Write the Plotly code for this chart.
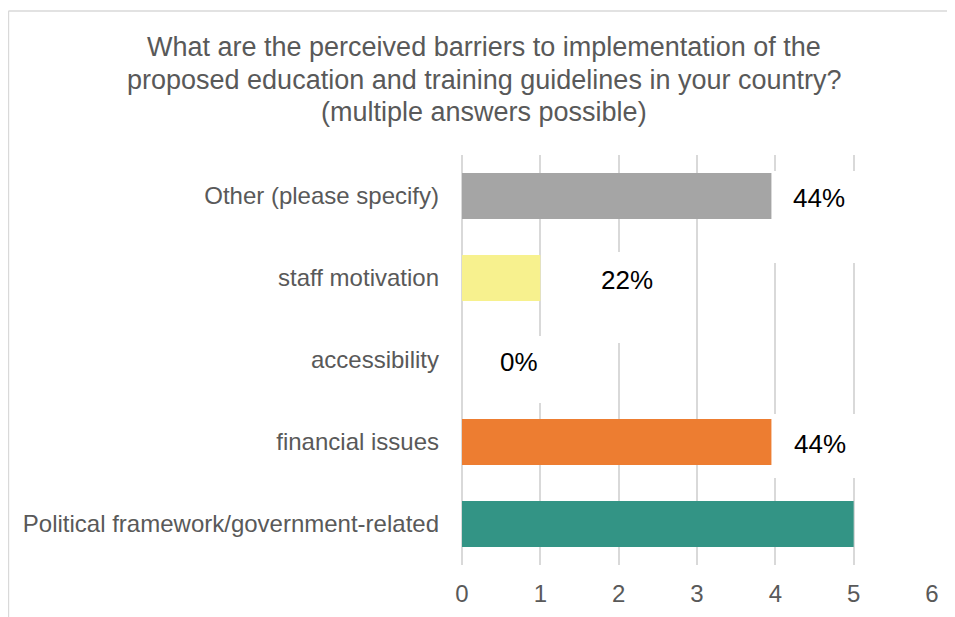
import plotly.graph_objects as go

# survey answers, bottom to top as drawn
categories = ["Political framework/government-related", "financial issues",
              "accessibility", "staff motivation", "Other (please specify)"]
counts = [5, 3.95, 0, 1, 3.95]
labels = ["", "44%", "0%", "22%", "44%"]
bar_colors = ["#339485", "#ED7D31", "#A5A5A5", "#F7F18E", "#A5A5A5"]
ticks = [0, 1, 2, 3, 4, 5, 6]

title_lines = ["What are the perceived barriers to implementation of the",
               "proposed education and training guidelines in your country?",
               "(multiple answers possible)"]
title_y = [1.263, 1.183, 1.105]

# label placement (px from bar end) and white label boxes (px offsets)
label_gap = [0, 21, 36, 59, 20]
box_x = [None, (2, 100), (20, 95), (40, 130), (2, 100)]
box_y = [None, (-36, 28), (-43, 24), (-65, 26), (-67, 25)]

FONT = "Liberation Sans, Arial, sans-serif"
GRID = "#D9D9D9"

fig = go.Figure(go.Bar(
    x=counts, y=categories, orientation="h",
    marker=dict(color=bar_colors, line=dict(width=0)),
    width=0.56, hoverinfo="skip",
))

shapes = []
annotations = []
for i, cat in enumerate(categories):
    if not labels[i]:
        continue
    shapes.append(dict(
        type="rect", layer="between",
        xref="x", yref="y", xsizemode="pixel", ysizemode="pixel",
        xanchor=counts[i], yanchor=cat,
        x0=box_x[i][0], x1=box_x[i][1], y0=box_y[i][0], y1=box_y[i][1],
        fillcolor="white", line=dict(width=0),
    ))
    annotations.append(dict(
        x=counts[i], y=cat, xref="x", yref="y",
        text=labels[i], showarrow=False,
        xanchor="left", yanchor="middle", xshift=label_gap[i], yshift=-2,
        font=dict(family=FONT, size=26, color="#000000"),
    ))

# chart frame (top and left edges only visible)
shapes.append(dict(type="line", xref="paper", yref="paper",
                   x0=-0.965, x1=1.2, y0=1.351, y1=1.351,
                   line=dict(color=GRID, width=1.5)))
shapes.append(dict(type="line", xref="paper", yref="paper",
                   x0=-0.965, x1=-0.965, y0=1.351, y1=-0.3,
                   line=dict(color=GRID, width=1.5)))

for line, ty in zip(title_lines, title_y):
    annotations.append(dict(
        x=0.047, y=ty, xref="paper", yref="paper",
        text=line, showarrow=False,
        xanchor="center", yanchor="middle",
        font=dict(family=FONT, size=27, color="#595959"),
    ))

# page body has an 8px margin, so the figure is 8px smaller each way
fig.update_layout(
    width=947, height=609,
    margin=dict(l=454, r=23, t=147, b=52, autoexpand=False),
    paper_bgcolor="white", plot_bgcolor="white",
    showlegend=False, bargap=0.44,
    shapes=shapes, annotations=annotations,
    font=dict(family=FONT, color="#595959"),
)
fig.update_xaxes(
    range=[0, 6], tickvals=ticks, showgrid=True, gridcolor=GRID, gridwidth=1.5,
    zeroline=True, zerolinecolor=GRID, zerolinewidth=1.5, showline=False,
    tickfont=dict(family=FONT, size=24, color="#595959"),
    ticks="", ticklabelstandoff=12, automargin=False, fixedrange=True,
)
fig.update_yaxes(
    categoryorder="array", categoryarray=categories,
    showgrid=False, showline=False, zeroline=False,
    tickfont=dict(family=FONT, size=24, color="#595959"),
    ticks="", ticklabelstandoff=22, automargin=False, fixedrange=True,
)

fig.write_html("out.html", config={"displayModeBar": False})
